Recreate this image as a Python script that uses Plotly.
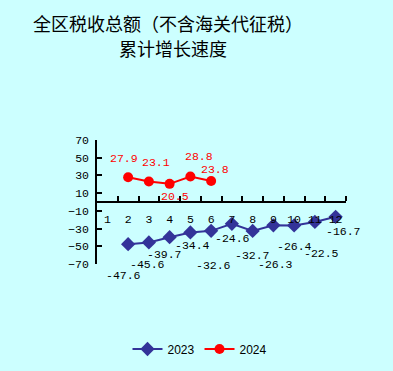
import plotly.graph_objects as go

months = list(range(1, 13))
tick_labels = [str(m) for m in months]

x2023 = [2, 3, 4, 5, 6, 7, 8, 9, 10, 11, 12]
y2023 = [-47.6, -45.6, -39.7, -34.4, -32.6, -24.6, -32.7, -26.3, -26.4, -22.5, -16.7]

x2024 = [2, 3, 4, 5, 6]
y2024 = [27.9, 23.1, 20.5, 28.8, 23.8]

title_line1 = "全区税收总额（不含海关代征税）"
title_line2 = "累计增长速度"

# label pixel offsets (style)
off2023 = [(-5, -31), (-1, -22), (-5, -17), (2, -13), (2, -35), (1, -15),
           (0, -25), (2, -39), (0, -21), (7, -32), (8, -15)]
off2024 = [(-4, 19), (7, 19), (5, -13), (9, 20), (4, 11)]

BG = "#CCFFFF"
C23 = "#333399"
C24 = "#FF0000"
NUMFONT = "Liberation Mono"
NUMSIZE = 11.5

L, R, T, B = 97, 47, 140, 107
W, H = 393, 371
pw, ph = W - L - R, H - T - B


def px_to_paper(fx, fy):
    return (fx - L) / pw, (H - B - fy) / ph


fig = go.Figure()
fig.add_trace(go.Scatter(x=x2023, y=y2023, mode="lines+markers", name="2023",
                         line=dict(color=C23, width=2),
                         marker=dict(symbol="diamond", size=11, color=C23),
                         cliponaxis=False))
fig.add_trace(go.Scatter(x=x2024, y=y2024, mode="lines+markers", name="2024",
                         line=dict(color=C24, width=2),
                         marker=dict(symbol="circle", size=10, color=C24),
                         cliponaxis=False))

for xv, yv, (dx, dy) in zip(x2023, y2023, off2023):
    fig.add_annotation(x=xv, y=yv, xref="x", yref="y", text=f"{yv}", showarrow=False,
                       xshift=dx, yshift=dy, font=dict(family=NUMFONT, size=NUMSIZE, color="black"))
for xv, yv, (dx, dy) in zip(x2024, y2024, off2024):
    fig.add_annotation(x=xv, y=yv, xref="x", yref="y", text=f"{yv}", showarrow=False,
                       xshift=dx, yshift=dy, font=dict(family=NUMFONT, size=NUMSIZE, color=C24))

tx, ty = px_to_paper(167.5, 23)
fig.add_annotation(x=tx, y=ty, xref="paper", yref="paper", text=title_line1,
                   showarrow=False, xanchor="center", yanchor="middle",
                   font=dict(family="Noto Sans CJK SC", size=18, color="black"))
tx, ty = px_to_paper(173, 48)
fig.add_annotation(x=tx, y=ty, xref="paper", yref="paper", text=title_line2,
                   showarrow=False, xanchor="center", yanchor="middle",
                   font=dict(family="Noto Sans CJK SC", size=18, color="black"))

lx, ly = px_to_paper(200, 349)
fig.update_layout(
    width=W, height=H,
    margin=dict(l=L, r=R, t=T, b=B, autoexpand=False),
    paper_bgcolor=BG, plot_bgcolor=BG,
    showlegend=True,
    hovermode=False,
    legend=dict(orientation="h", x=lx, xanchor="center", y=ly, yanchor="middle",
                font=dict(family="Liberation Sans", size=12, color="black"),
                bgcolor="rgba(0,0,0,0)", itemwidth=30),
    xaxis=dict(range=[0.5, 12.5], tickmode="array", tickvals=months, ticktext=tick_labels,
               ticks="", showgrid=False, zeroline=False, showline=True, linecolor="black",
               linewidth=1.5, anchor="free", position=0.5, ticklabelstandoff=6,
               tickfont=dict(family=NUMFONT, size=NUMSIZE, color="black"),
               minor=dict(tickmode="array", tickvals=[m + 0.5 for m in months],
                          ticks="inside", ticklen=5, tickcolor="black", tickwidth=1.5)),
    yaxis=dict(range=[-70, 70], tickmode="array", tickvals=list(range(-70, 71, 20)),
               ticks="inside", ticklen=5, tickcolor="black", tickwidth=1.5,
               showgrid=False, zeroline=False, showline=True, linecolor="black", linewidth=1.5,
               ticklabelstandoff=4,
               tickfont=dict(family=NUMFONT, size=NUMSIZE, color="black")),
)

fig.write_html("out.html", config={"displayModeBar": False},
               post_script="document.body.style.margin='0px';document.body.style.overflow='hidden';")
